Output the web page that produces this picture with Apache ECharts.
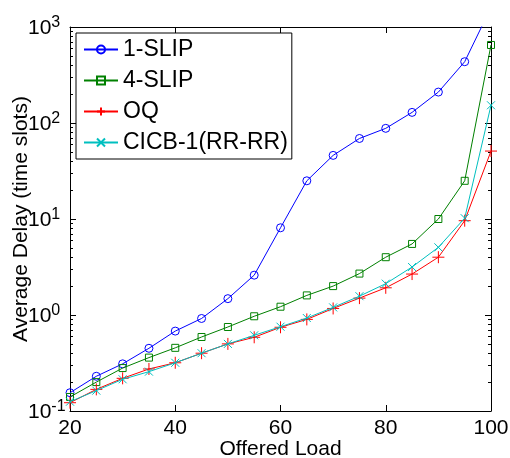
<!DOCTYPE html>
<html>
<head>
<meta charset="utf-8">
<script src="https://cdn.jsdelivr.net/npm/echarts@6/dist/echarts.min.js"></script>
<style>html,body{margin:0;padding:0;background:#fff}#c{width:510px;height:458px}</style>
</head>
<body>
<div id="c"></div>
<script>
var loads = [20, 25, 30, 35, 40, 45, 50, 55, 60, 65, 70, 75, 80, 85, 90, 95, 100];
var slip1 = [0.155, 0.23, 0.31, 0.45, 0.68, 0.92, 1.48, 2.6, 8.1, 25, 46, 69, 88, 129, 210, 435, 1600];
var slip4 = [0.14, 0.20, 0.28, 0.36, 0.455, 0.59, 0.75, 0.97, 1.22, 1.6, 2.0, 2.7, 4.0, 5.5, 10, 25, 650];
var oq    = [0.122, 0.168, 0.219, 0.274, 0.318, 0.40, 0.50, 0.586, 0.745, 0.90, 1.17, 1.50, 1.92, 2.67, 4.0, 9.6, 51];
var cicb  = [0.125, 0.163, 0.214, 0.257, 0.318, 0.40, 0.50, 0.614, 0.755, 0.93, 1.2, 1.57, 2.12, 3.16, 5.07, 10.2, 153];
var seriesNames = ['1-SLIP', '4-SLIP', 'OQ', 'CICB-1(RR-RR)'];
var xTicks = [20, 40, 60, 80, 100];
var yMajor = [0.1, 1, 10, 100, 1000];

var FONT = 'Liberation Sans, Arial, Helvetica, sans-serif';
var minorVals = [];
[0.1, 1, 10, 100].forEach(function (d) { for (var k = 2; k <= 9; k++) minorVals.push(+(d * k).toPrecision(3)); });

function pairs(ys) { return loads.map(function (x, i) { return [x, ys[i]]; }); }

var colors = ['#0000ff', '#008000', '#ff0000', '#00bfbf'];
var symbols = ['circle', 'rect', 'path://M5,0L5,10M0,5L10,5', 'path://M0,0L10,10M10,0L0,10'];
var sizes = [8, 7, 12, 8];
var datas = [slip1, slip4, oq, cicb];

var axisLineStyle = { show: true, lineStyle: { color: '#000', width: 1 } };
var majorTick = { show: true, inside: true, length: 6, lineStyle: { color: '#000', width: 1 } };
var minorTick = { show: true, inside: true, length: 3, customValues: minorVals, lineStyle: { color: '#000', width: 1 } };

var series = seriesNames.map(function (n, i) {
  return {
    name: n, type: 'line', data: pairs(datas[i]),
    xAxisIndex: 0, yAxisIndex: 0,
    symbol: symbols[i], symbolSize: sizes[i], showAllSymbol: true,
    clip: true,
    lineStyle: { color: colors[i], width: 1 },
    itemStyle: { color: 'rgba(0,0,0,0)', borderColor: colors[i], borderWidth: 1 },
    emphasis: { disabled: true },
    z: 2 + i
  };
});

var option = {
  animation: false,
  backgroundColor: '#fff',
  textStyle: { fontFamily: FONT, color: '#000' },
  grid: { left: 70, right: 19, top: 27, bottom: 47, containLabel: false, outerBoundsMode: 'none' },
  legend: {
    data: seriesNames, orient: 'vertical', left: 76, top: 33,
    backgroundColor: '#fff', borderColor: '#000', borderWidth: 1,
    padding: [5, 4, 5, 7], itemGap: 8, itemWidth: 34, itemHeight: 10,
    textStyle: { fontFamily: FONT, fontSize: 23, color: '#000' },
    z: 10
  },
  xAxis: [{
    type: 'value', min: 20, max: 100, interval: 20, position: 'bottom',
    axisLine: axisLineStyle, axisTick: majorTick,
    axisLabel: { fontFamily: FONT, fontSize: 21, color: '#000', margin: 7 },
    splitLine: { show: false },
    name: 'Offered Load', nameLocation: 'middle', nameGap: 28, nameMoveOverlap: false,
    nameTextStyle: { fontFamily: FONT, fontSize: 21, color: '#000' }
  }, {
    type: 'value', min: 20, max: 100, interval: 20, position: 'top',
    axisLine: axisLineStyle, axisTick: majorTick,
    axisLabel: { show: false }, splitLine: { show: false }
  }],
  yAxis: [{
    type: 'log', logBase: 10, min: 0.1, max: 1000, position: 'left',
    axisLine: axisLineStyle, axisTick: majorTick,
    axisLabel: {
      align: 'left', margin: 42, color: '#000',
      formatter: function (v) { return '{b|10}{s|' + Math.round(Math.log10(v)) + '}'; },
      rich: {
        b: { fontFamily: FONT, fontSize: 21, lineHeight: 24, color: '#000', verticalAlign: 'bottom' },
        s: { fontFamily: FONT, fontSize: 16, lineHeight: 16, color: '#000', verticalAlign: 'top' }
      }
    },
    splitLine: { show: false },
    name: 'Average Delay (time slots)', nameLocation: 'middle', nameGap: 38, nameMoveOverlap: false,
    nameTextStyle: { fontFamily: FONT, fontSize: 21, color: '#000' }
  }, {
    type: 'log', logBase: 10, min: 0.1, max: 1000, position: 'left',
    axisLine: { show: false }, axisTick: minorTick,
    axisLabel: { show: false }, splitLine: { show: false }
  }, {
    type: 'log', logBase: 10, min: 0.1, max: 1000, position: 'right',
    axisLine: axisLineStyle, axisTick: majorTick,
    axisLabel: { show: false }, splitLine: { show: false }
  }, {
    type: 'log', logBase: 10, min: 0.1, max: 1000, position: 'right',
    axisLine: { show: false }, axisTick: minorTick,
    axisLabel: { show: false }, splitLine: { show: false }
  }],
  series: series
};

var chart = echarts.init(document.getElementById('c'), null, { renderer: 'canvas' });
chart.setOption(option);
</script>
</body>
</html>
